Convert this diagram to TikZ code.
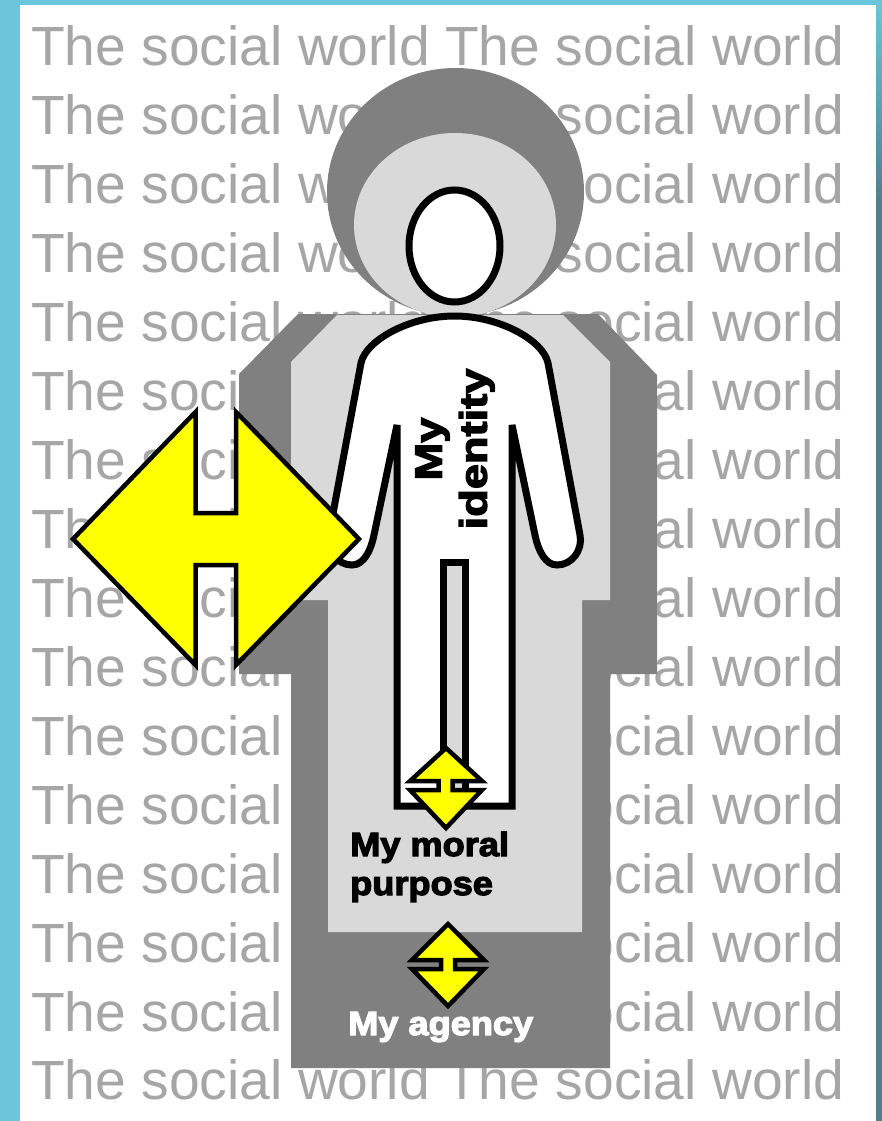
\documentclass[tikz,border=0pt]{standalone}
\usepackage{fontspec}
\setmainfont{Liberation Sans}
\newfontfamily\heavyfont{Liberation Sans}[BoldFeatures={FakeBold=3.5,FakeStretch=1.08}]
\newfontfamily\tallfont{Liberation Sans}[BoldFeatures={FakeBold=3.5,FakeStretch=1.19}]
\usepackage{xcolor}
\definecolor{fr}{RGB}{107,197,219}
\definecolor{frd}{RGB}{80,128,143}
\definecolor{wt}{RGB}{166,166,166}
\definecolor{dg}{RGB}{128,128,128}
\definecolor{lg}{RGB}{217,217,217}
\definecolor{yw}{RGB}{255,255,0}
\tikzset{
  wordline/.style={anchor=base west,inner sep=0pt,text=wt,font=\fontsize{55.2}{60}\selectfont},
  figline/.style={draw=black,line width=7pt,miter limit=2},
  harrow/.style={draw=black,fill=yw,line width=4.5pt},
  lab/.style={inner sep=0pt,align=left,anchor=base west,font=\heavyfont\bfseries\fontsize{33.5}{39}\selectfont},
}

\begin{document}
\begin{tikzpicture}[x=1pt,y=-1pt]
    \useasboundingbox (0,0) rectangle (882,1121);
    % frame and page
    \fill[fr] (0,0) rectangle (882,1121);
    \shade[top color=fr,bottom color=frd] (876,0) rectangle (882,200);
    \fill[frd] (876,200) rectangle (882,1121);
    \fill[white] (20,5) rectangle (876,1121);
    % the words behind
    \foreach \i in {1,...,16}
      \node[wordline] (w\i) at (31,{66+68.93*(\i-1)}) {The social world The social world};
    % outer figure
    \fill[dg] (455.5,192) ellipse [x radius=128.5,y radius=124];
    \fill[dg] (298,314) -- (239,374) -- (239,674) -- (291,674) -- (291,1068)
      -- (610,1068) -- (610,674) -- (657,674) -- (657,375) -- (598,314) -- cycle;
    % inner figure
    \fill[lg] (455,225) ellipse [x radius=101,y radius=92];
    \fill[lg] (337,315) -- (291,362) -- (291,600) -- (328,600) -- (328,932)
      -- (582,932) -- (582,600) -- (610,600) -- (610,362) -- (563,315) -- cycle;
    % the person
    \draw[figline,fill=white] (454.5,246) ellipse [x radius=45.5,y radius=56];
    \draw[figline,fill=white] (397,425) -- (374,535)
      .. controls (371,550) and (364,565) .. (352,565)
      .. controls (337,565) and (326,550) .. (329,535)
      -- (361,363) .. controls (366,340) and (410,316) .. (454.5,316)
      .. controls (499,316) and (543,340) .. (548,363) -- (580,535)
      .. controls (583,550) and (572,565) .. (557,565)
      .. controls (545,565) and (538,550) .. (535,535)
      -- (512,425) -- (512,806) -- (397,806) -- cycle;
    \draw[figline,fill=lg] (443,806) -- (443,562) -- (465.5,562) -- (465.5,806);
    % arrows
    \draw[harrow] (73,539) -- (195.5,412) -- (195.5,513) -- (236,513) -- (236,412) -- (359,539)
      -- (236,665) -- (236,565) -- (195.5,565) -- (195.5,665) -- cycle;
    \draw[harrow] (446,748) -- (482,781) -- (452.7,781) -- (452.7,790) -- (482,790) -- (446,828)
      -- (410,790) -- (438.7,790) -- (438.7,781) -- (410,781) -- cycle;
    \draw[harrow] (448,924) -- (484,960) -- (455,960) -- (455,969) -- (484,969) -- (448,1006)
      -- (412,969) -- (441,969) -- (441,960) -- (412,960) -- cycle;
    % labels
    \node[lab] (moral) at (350,895) {My moral\\purpose};
    \node[lab,text=white] (agency) at (348,1035) {My agency};
    \node[inner sep=0pt,rotate=90,align=center,font=\tallfont\bfseries\fontsize{38}{45}\selectfont] (identity) at (455,449) {My\\identity};
  \end{tikzpicture}
\end{document}
